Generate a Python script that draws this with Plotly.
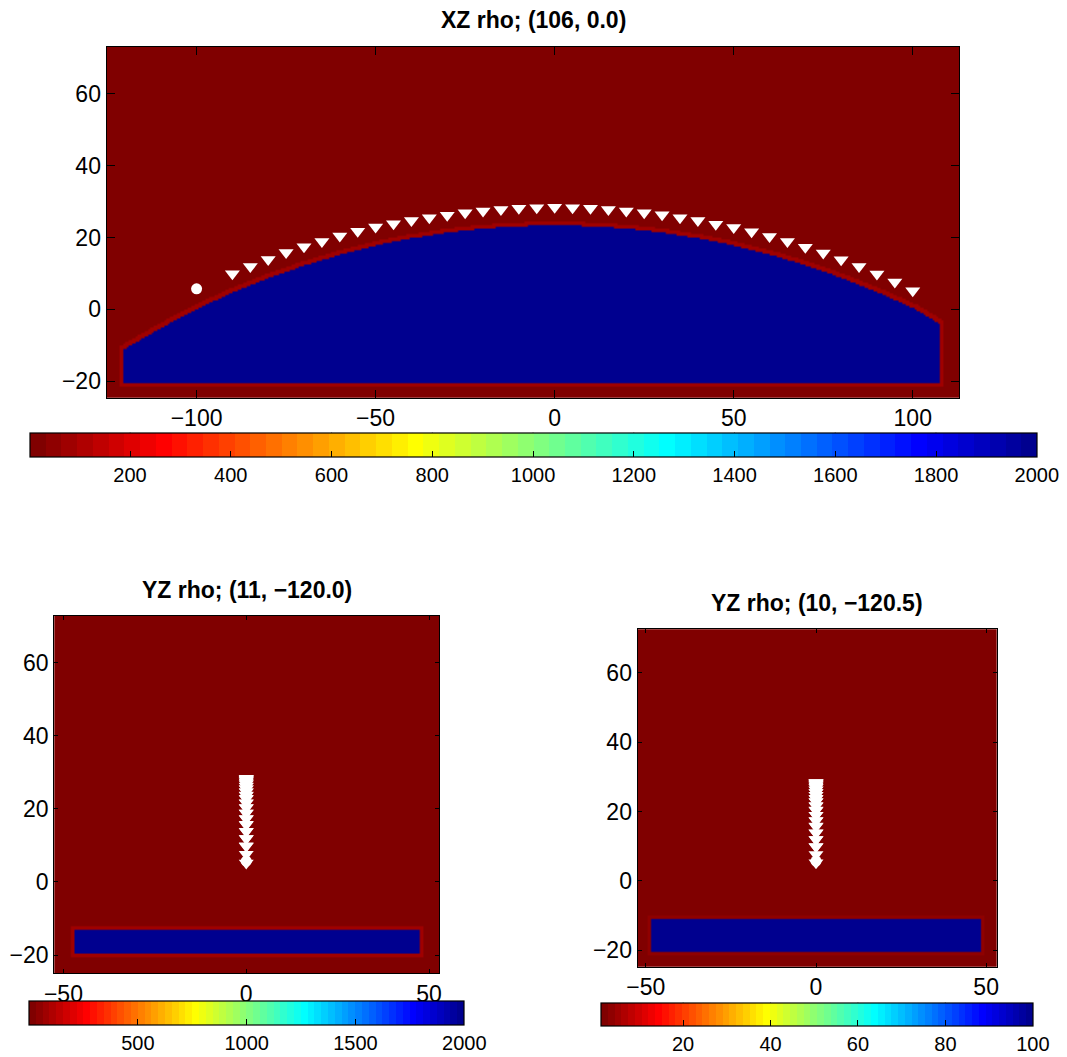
import numpy as np
import plotly.graph_objects as go

# ------------------------------------------------------------------ data
AIR_RHO = 1.2
ROCK_RHO = 2000.0

# XZ slice: top of the dense body
surf_x = [-120.5, -110, -100, -90, -80, -70, -60, -50, -40, -30, -20, -10, 0,
          10, 20, 30, 40, 50, 60, 70, 80, 90, 100, 107.5]
surf_z = [-11.2, -5.2, 0.1, 4.7, 8.7, 12.2, 15.2, 17.8, 19.8, 21.4, 22.5, 23.2, 23.4,
          23.2, 22.5, 21.4, 19.8, 17.8, 15.3, 12.3, 8.8, 4.8, 0.4, -4.0]
xz_bottom = -20.4
xz_edge_rho = 80.0

# YZ slices: rectangular body extents [ymin, ymax, zmin, zmax]
yz1_body = [-47.0, 47.5, -19.6, -12.8]
yz1_edge_rho = 80.0
yz2_body = [-48.6, 48.6, -20.4, -11.2]
yz2_halo = [-52.0, 51.5, -23.4, -7.0]
yz2_edge_rho = 4.0
yz2_halo_rho = 2.6

# receivers (triangles) and source (circle)
rec_x = [-90, -85, -80, -75, -70, -65, -60, -55, -50, -45, -40, -35, -30, -25,
         -20, -15, -10, -5, 0, 5, 10, 15, 20, 25, 30, 35, 40, 45, 50, 55, 60, 65,
         70, 75, 80, 85, 90, 95, 100]
rec_z = [9.9, 11.9, 13.9, 15.8, 17.4, 18.9, 20.4, 21.7, 22.9, 23.8, 24.7, 25.5,
         26.2, 26.9, 27.4, 27.8, 28.1, 28.3, 28.4, 28.3, 28.1, 27.8, 27.4, 26.9,
         26.3, 25.5, 24.7, 23.7, 22.8, 21.6, 20.3, 18.9, 17.3, 15.7, 13.8, 11.9,
         9.8, 7.6, 5.2]
rec_y = [0.0] * len(rec_z)
src_x = [-100.0]
src_y = [0.0]
src_z = [5.7]

titles = ["XZ rho; (106, 0.0)", "YZ rho; (11, \u2212120.0)", "YZ rho; (10, \u2212120.5)"]
cb1_ticks = [200, 400, 600, 800, 1000, 1200, 1400, 1600, 1800, 2000]
cb2_ticks = [500, 1000, 1500, 2000]
cb3_ticks = [20, 40, 60, 80, 100]
xz_xticks = [-100, -50, 0, 50, 100]
yz_xticks = [-50, 0, 50]
z_ticks = [-20, 0, 20, 40, 60]

# ------------------------------------------------------------------ helpers
W, H = 1067, 1057
FONT = "Liberation Sans, Arial, Helvetica, sans-serif"


def px_x(p):
    return p / W


def px_y(p):
    return 1 - p / H


def jet_reversed(m=64):
    n = int(np.ceil(m / 4))
    u = np.concatenate([np.arange(1, n + 1) / n, np.ones(n - 1), np.arange(n, 0, -1) / n])
    g = int(np.ceil(n / 2)) - (1 if m % 4 == 1 else 0) + np.arange(1, len(u) + 1)
    r = g + n
    b = g - n
    J = np.zeros((m, 3))
    for k in range(len(u)):
        if 1 <= r[k] <= m:
            J[r[k] - 1, 0] = u[k]
        if 1 <= g[k] <= m:
            J[g[k] - 1, 1] = u[k]
        if 1 <= b[k] <= m:
            J[b[k] - 1, 2] = u[k]
    J = J[::-1]
    scale = []
    for i, c in enumerate(J):
        col = "rgb(%d,%d,%d)" % tuple(int(round(v * 255)) for v in c)
        scale.append([i / m, col])
        scale.append([(i + 1) / m, col])
    return scale


CSCALE = jet_reversed(64)


def dilate(mask, k):
    out = mask.copy()
    ny, nx = mask.shape
    pad = np.pad(mask, k)
    for dy in range(-k, k + 1):
        for dx in range(-k, k + 1):
            out |= pad[k + dy:k + dy + ny, k + dx:k + dx + nx]
    return out


# XZ grid
gx = np.arange(-125.25, 113.3, 0.5)
gz = np.arange(-24.75, 73.3, 0.5)
top = np.interp(gx, surf_x, surf_z)
inx = (gx >= surf_x[0]) & (gx <= surf_x[-1])
body1 = (gz[:, None] >= xz_bottom) & (gz[:, None] <= top[None, :]) & inx[None, :]
band1 = dilate(body1, 2) & ~body1
rho1 = np.full(body1.shape, AIR_RHO)
rho1[band1] = xz_edge_rho
rho1[body1] = ROCK_RHO


def rect_grid(ymin, ymax, zmin, zmax, gy, gzz):
    return ((gy[None, :] >= ymin) & (gy[None, :] <= ymax) &
            (gzz[:, None] >= zmin) & (gzz[:, None] <= zmax))


gy = np.arange(-53.25, 53.3, 0.5)
gz2 = np.arange(-25.25, 73.3, 0.5)
body2 = rect_grid(*yz1_body, gy, gz2)
band2 = dilate(body2, 2) & ~body2
rho2 = np.full(body2.shape, AIR_RHO)
rho2[band2] = yz1_edge_rho
rho2[body2] = ROCK_RHO

body3 = rect_grid(*yz2_body, gy, gz2)
halo3 = rect_grid(*yz2_halo, gy, gz2)
band3 = dilate(body3, 2) & ~body3
rho3 = np.full(body3.shape, AIR_RHO)
rho3[halo3] = yz2_halo_rho
rho3[band3] = yz2_edge_rho
rho3[body3] = ROCK_RHO

# colorbar geometry in pixels: left, right, top, bottom
CB = [(30, 1036.7, 432.7, 456.7), (29.3, 464.3, 1001, 1025.3), (601, 1032.7, 1002.7, 1025.3)]


def cbar(ticks, geom):
    left, right, top_px, bottom_px = geom
    return dict(
        orientation="h",
        x=px_x((left + right) / 2), xanchor="center",
        y=px_y(top_px), yanchor="top",
        len=right - left, lenmode="pixels",
        thickness=bottom_px - top_px, thicknessmode="pixels",
        xpad=0, ypad=0,
        outlinewidth=1.2, outlinecolor="black",
        tickvals=ticks, ticks="inside", ticklen=6, tickwidth=1, tickcolor="black",
        tickfont=dict(family=FONT, size=20, color="black"),
    )


fig = go.Figure()
fig.add_trace(go.Heatmap(x=np.round(gx, 2), y=np.round(gz, 2), z=rho1, zmin=AIR_RHO, zmax=2000,
                         colorscale=CSCALE, zsmooth="fast", hoverinfo="skip",
                         colorbar=cbar(cb1_ticks, CB[0]),
                         xaxis="x", yaxis="y"))
fig.add_trace(go.Heatmap(x=np.round(gy, 2), y=np.round(gz2, 2), z=rho2, zmin=AIR_RHO, zmax=2000,
                         colorscale=CSCALE, zsmooth="fast", hoverinfo="skip",
                         colorbar=cbar(cb2_ticks, CB[1]),
                         xaxis="x2", yaxis="y2"))
fig.add_trace(go.Heatmap(x=np.round(gy, 2), y=np.round(gz2, 2), z=rho3, zmin=AIR_RHO, zmax=100,
                         colorscale=CSCALE, zsmooth="fast", hoverinfo="skip",
                         colorbar=cbar(cb3_ticks, CB[2]),
                         xaxis="x3", yaxis="y3"))

tri = dict(symbol="triangle-down", color="white", size=13, line=dict(width=0))
dot = dict(symbol="circle", color="white", size=11, line=dict(width=0))
for xa, ya, xs, xsrc in [("x", "y", rec_x, src_x), ("x2", "y2", rec_y, src_y), ("x3", "y3", rec_y, src_y)]:
    fig.add_trace(go.Scatter(x=xs, y=rec_z, mode="markers", marker=tri, xaxis=xa, yaxis=ya,
                             hoverinfo="skip", showlegend=False))
    fig.add_trace(go.Scatter(x=xsrc, y=src_z, mode="markers", marker=dot, xaxis=xa, yaxis=ya,
                             hoverinfo="skip", showlegend=False))


def ax(domain, rng, ticks, ticklen, anchor):
    return dict(domain=domain, range=rng, tickvals=ticks, anchor=anchor,
                showline=True, linecolor="black", linewidth=1.3, mirror="ticks",
                ticks="inside", ticklen=ticklen, tickwidth=1, tickcolor="black",
                showgrid=False, zeroline=False, automargin=False,
                tickfont=dict(family=FONT, size=23, color="black"))


fig.update_layout(
    width=W, height=H,
    margin=dict(l=0, r=0, t=0, b=0, pad=0, autoexpand=False),
    paper_bgcolor="white", plot_bgcolor="white",
    showlegend=False,
    xaxis=ax([px_x(106.7), px_x(959.3)], [-125.1, 113.0], xz_xticks, 8, "y"),
    yaxis=ax([px_y(397.7), px_y(46.7)], [-24.6, 73.1], z_ticks, 8, "x"),
    xaxis2=ax([px_x(54.3), px_x(439.3)], [-52.5, 52.8], yz_xticks, 4, "y2"),
    yaxis2=ax([px_y(973.3), px_y(615.7)], [-25.0, 72.9], z_ticks, 4, "x2"),
    xaxis3=ax([px_x(637.7), px_x(996.7)], [-52.4, 53.1], yz_xticks, 4, "y3"),
    yaxis3=ax([px_y(966.7), px_y(629.3)], [-24.8, 72.6], z_ticks, 4, "x3"),
)

# mirrored colorbar tick marks along the top edge of each colorbar
for ticks, geom, zmax in [(cb1_ticks, CB[0], 2000), (cb2_ticks, CB[1], 2000), (cb3_ticks, CB[2], 100)]:
    left, right, top_px, bottom_px = geom
    for t in ticks[:-1]:
        xp = left + (t - AIR_RHO) / (zmax - AIR_RHO) * (right - left)
        fig.add_shape(type="line", xref="paper", yref="paper",
                      x0=px_x(xp), x1=px_x(xp), y0=px_y(top_px), y1=px_y(top_px + 6),
                      line=dict(color="black", width=1))

for text, cx, cy in [(titles[0], 533.0, 20.0), (titles[1], 246.8, 590.0), (titles[2], 817.2, 603.0)]:
    fig.add_annotation(text="<b>%s</b>" % text, x=px_x(cx), y=px_y(cy), xref="paper", yref="paper",
                       xanchor="center", yanchor="middle", showarrow=False,
                       font=dict(family=FONT, size=23, color="black"))

fig.write_html("out.html", config={"displayModeBar": False},
               post_script="document.body.style.margin='0px';document.body.style.overflow='hidden';")
